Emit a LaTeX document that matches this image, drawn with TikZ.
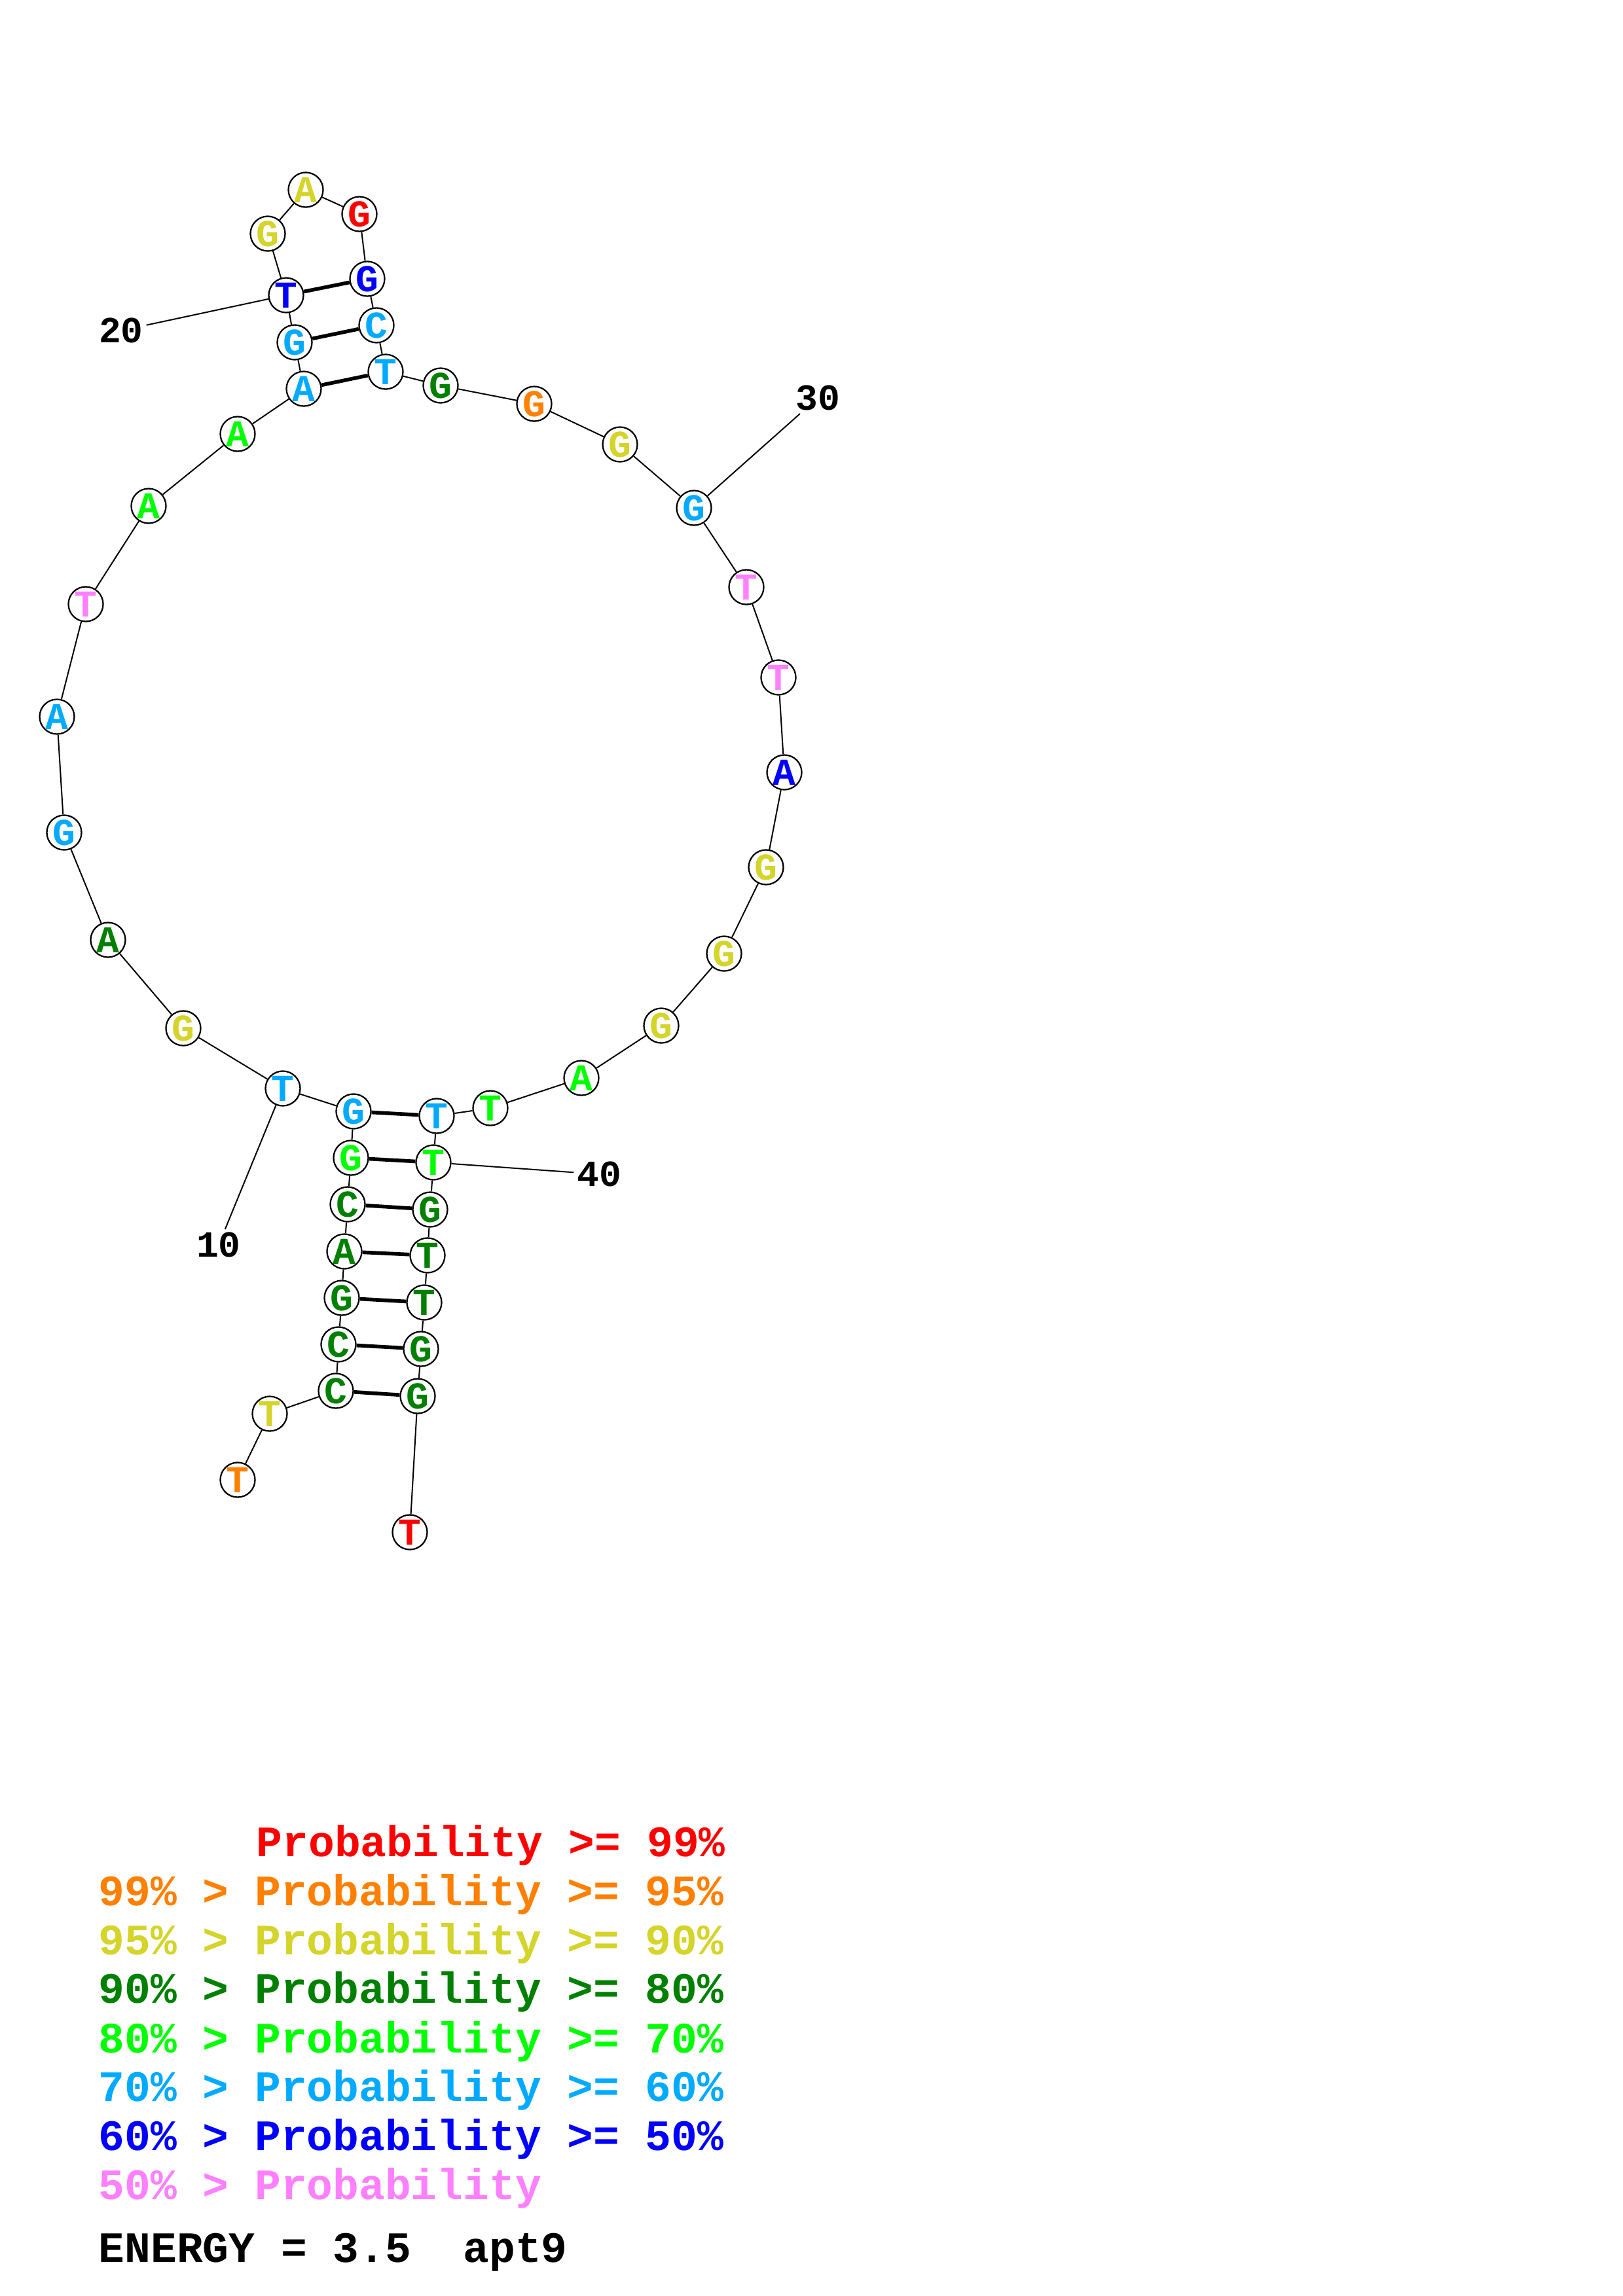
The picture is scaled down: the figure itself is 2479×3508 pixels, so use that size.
\documentclass[tikz,border=0pt]{standalone}
\usepackage{fontspec}
\newfontfamily\courb{Liberation Mono}
\usepackage{xcolor}
\definecolor{pA}{RGB}{255,0,0}
\definecolor{pB}{RGB}{255,128,0}
\definecolor{pC}{RGB}{212,212,42}
\definecolor{pD}{RGB}{0,128,0}
\definecolor{pE}{RGB}{0,255,0}
\definecolor{pF}{RGB}{0,170,255}
\definecolor{pG}{RGB}{0,0,255}
\definecolor{pH}{RGB}{255,128,255}
\frenchspacing

\begin{document}
\begin{tikzpicture}[x=0.01cm,y=-0.01cm,
  nt/.style={circle,draw,line width=0.65pt,fill=white,minimum size=0.53cm,inner sep=0pt,
    font=\courb\bfseries\fontsize{16.5}{16.5}\selectfont},
  bb/.style={line width=0.57pt},
  bp/.style={line width=1.6pt},
  num/.style={inner sep=1.2pt,font=\courb\bfseries\fontsize{16}{16}\selectfont},
  leg/.style={anchor=base west,inner sep=0pt,font=\courb\bfseries\fontsize{18.85}{18.85}\selectfont}]
\useasboundingbox (0,0) rectangle (2479,3508);
% 5' stem
\path (363,2261) node[nt,text=pB] (n1) {T}
      (412,2160) node[nt,text=pC] (n2) {T}
      (513,2125) node[nt,text=pD] (n3) {C}
      (517,2054) node[nt,text=pD] (n4) {C}
      (522,1983) node[nt,text=pD] (n5) {G}
      (526,1912) node[nt,text=pD] (n6) {A}
      (531,1840) node[nt,text=pD] (n7) {C}
      (536,1769) node[nt,text=pE] (n8) {G}
      (540,1698) node[nt,text=pF] (n9) {G}
      (432,1663) node[nt,text=pF] (n10) {T}
      % loop, left
      (280,1571) node[nt,text=pC] (n11) {G}
      (165,1436) node[nt,text=pD] (n12) {A}
      (98,1272)  node[nt,text=pF] (n13) {G}
      (87,1095)  node[nt,text=pF] (n14) {A}
      (131,923)  node[nt,text=pH] (n15) {T}
      (227,773)  node[nt,text=pE] (n16) {A}
      (363,663)  node[nt,text=pE] (n17) {A}
      % hairpin
      (464,594)  node[nt,text=pF] (n18) {A}
      (450,523)  node[nt,text=pF] (n19) {G}
      (437,451)  node[nt,text=pG] (n20) {T}
      (409,357)  node[nt,text=pC] (n21) {G}
      (467,290)  node[nt,text=pC] (n22) {A}
      (549,327)  node[nt,text=pA] (n23) {G}
      (561,426)  node[nt,text=pG] (n24) {G}
      (575,497)  node[nt,text=pF] (n25) {C}
      (589,568)  node[nt,text=pF] (n26) {T}
      % loop, right
      (673,589)  node[nt,text=pD] (n27) {G}
      (816,617)  node[nt,text=pB] (n28) {G}
      (947,679)  node[nt,text=pC] (n29) {G}
      (1060,776) node[nt,text=pF] (n30) {G}
      (1140,897) node[nt,text=pH] (n31) {T}
      (1189,1035) node[nt,text=pH] (n32) {T}
      (1198,1180) node[nt,text=pG] (n33) {A}
      (1170,1325) node[nt,text=pC] (n34) {G}
      (1106,1457) node[nt,text=pC] (n35) {G}
      (1010,1567) node[nt,text=pC] (n36) {G}
      (888,1647) node[nt,text=pE] (n37) {A}
      (749,1693) node[nt,text=pE] (n38) {T}
      % 3' stem
      (667,1705) node[nt,text=pF] (n39) {T}
      (662,1776) node[nt,text=pE] (n40) {T}
      (657,1848) node[nt,text=pD] (n41) {G}
      (653,1918) node[nt,text=pD] (n42) {T}
      (648,1990) node[nt,text=pD] (n43) {T}
      (643,2061) node[nt,text=pD] (n44) {G}
      (638,2133) node[nt,text=pD] (n45) {G}
      (626,2341) node[nt,text=pA] (n46) {T};
% backbone
\draw[bb] (n1) -- (n2) -- (n3) -- (n4) -- (n5) -- (n6) -- (n7) -- (n8) -- (n9) -- (n10)
  -- (n11) -- (n12) -- (n13) -- (n14) -- (n15) -- (n16) -- (n17) -- (n18) -- (n19) -- (n20)
  -- (n21) -- (n22) -- (n23) -- (n24) -- (n25) -- (n26) -- (n27) -- (n28) -- (n29) -- (n30)
  -- (n31) -- (n32) -- (n33) -- (n34) -- (n35) -- (n36) -- (n37) -- (n38) -- (n39) -- (n40)
  -- (n41) -- (n42) -- (n43) -- (n44) -- (n45) -- (n46);
% pairs
\draw[bp] (n3) -- (n45)  (n4) -- (n44)  (n5) -- (n43)  (n6) -- (n42)
  (n7) -- (n41)  (n8) -- (n40)  (n9) -- (n39)
  (n18) -- (n26)  (n19) -- (n25)  (n20) -- (n24);
% numbers
\path (334,1902) node[num] (l10) {10}
      (185,505)  node[num] (l20) {20}
      (1249,608) node[num] (l30) {30}
      (915,1794) node[num] (l40) {40};
\draw[bb] (n10) -- (l10)  (n20) -- (l20)  (n30) -- (l30)  (n40) -- (l40);
% legend
\path (391,2836) node[leg,text=pA] (leg1) {Probability >= 99\%}
      (150,2911) node[leg,text=pB] (leg2) {99\% > Probability >= 95\%}
      (150,2986) node[leg,text=pC] (leg3) {95\% > Probability >= 90\%}
      (150,3060) node[leg,text=pD] (leg4) {90\% > Probability >= 80\%}
      (150,3136) node[leg,text=pE] (leg5) {80\% > Probability >= 70\%}
      (150,3210) node[leg,text=pF] (leg6) {70\% > Probability >= 60\%}
      (150,3285) node[leg,text=pG] (leg7) {60\% > Probability >= 50\%}
      (150,3360) node[leg,text=pH] (leg8) {50\% > Probability}
      (150,3456) node[leg] (energy) {ENERGY = 3.5~~apt9};
\end{tikzpicture}
\end{document}
